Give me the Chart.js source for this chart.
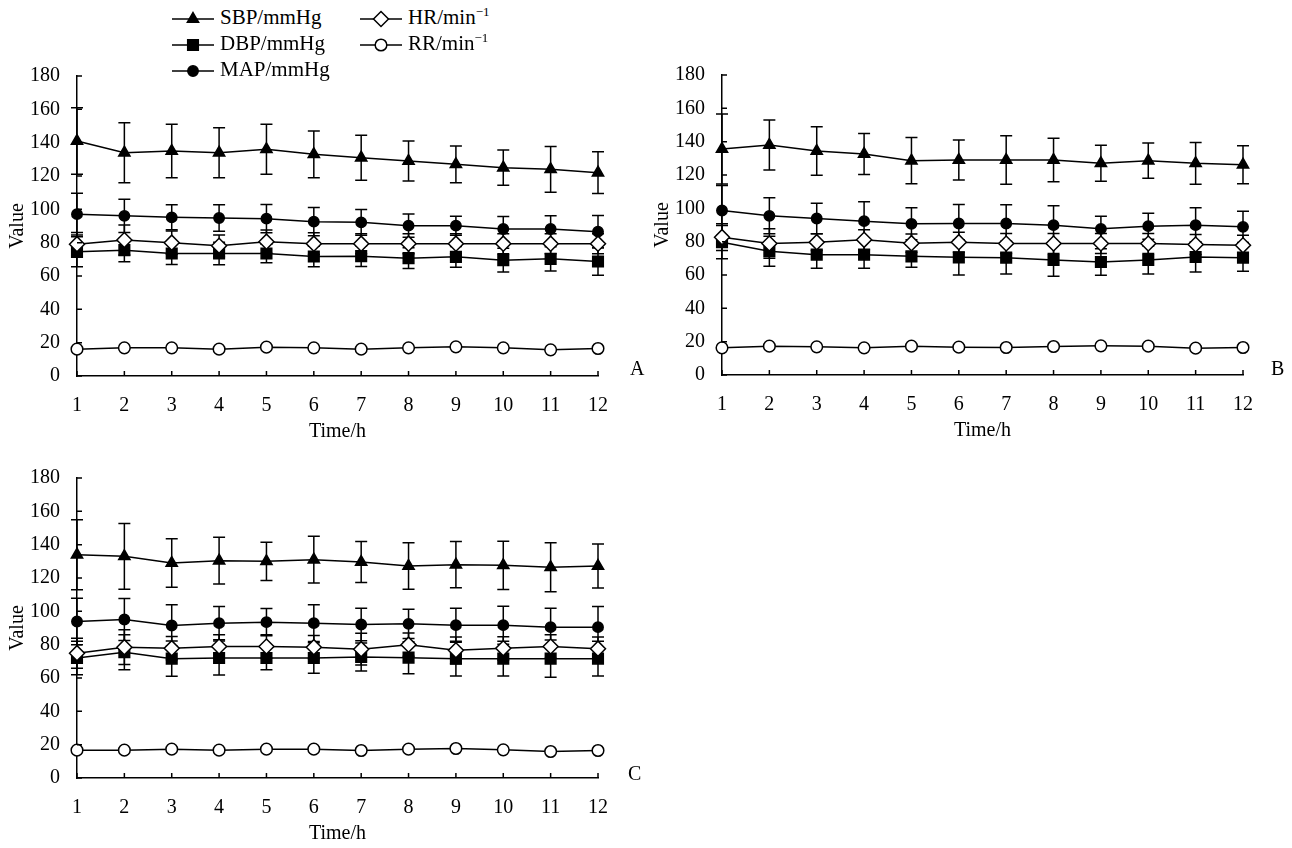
<!DOCTYPE html>
<html>
<head>
<meta charset="utf-8">
<title>Vital signs over time</title>
<script src="https://cdn.jsdelivr.net/npm/chart.js@4/dist/chart.umd.min.js"></script>
<style>
  html, body { margin: 0; padding: 0; background: #fff; overflow: hidden; }
  body { width: 1292px; height: 848px; position: relative; font-family: 'Liberation Serif', 'Times New Roman', serif; color: #000; }
  canvas { position: absolute; }
  .lg { position: absolute; height: 24px; line-height: 24px; font-size: 21px; white-space: nowrap; }
  .lg canvas { position: static; vertical-align: middle; margin-right: 5px; }
  .lg sup { font-size: 13px; line-height: 0; }
  .tag { position: absolute; font-size: 20px; line-height: 20px; }
</style>
</head>
<body>
<canvas id="chartA" width="660" height="400" style="left:0px;top:55px"></canvas>
<canvas id="chartB" width="660" height="400" style="left:645px;top:54px"></canvas>
<canvas id="chartC" width="660" height="400" style="left:0px;top:457px"></canvas>

<div class="lg" style="left:171px;top:5px"><canvas id="lgSBP" width="44" height="20"></canvas>SBP/mmHg</div>
<div class="lg" style="left:171px;top:31px"><canvas id="lgDBP" width="44" height="20"></canvas>DBP/mmHg</div>
<div class="lg" style="left:171px;top:57px"><canvas id="lgMAP" width="44" height="20"></canvas>MAP/mmHg</div>
<div class="lg" style="left:359px;top:5px"><canvas id="lgHR" width="44" height="20"></canvas>HR/min<sup>−1</sup></div>
<div class="lg" style="left:359px;top:31px"><canvas id="lgRR" width="44" height="20"></canvas>RR/min<sup>−1</sup></div>

<div class="tag" style="left:630px;top:358px">A</div>
<div class="tag" style="left:1271px;top:358px">B</div>
<div class="tag" style="left:628px;top:763px">C</div>

<script>
// time points (h) and y ticks
const hours = ['1', '2', '3', '4', '5', '6', '7', '8', '9', '10', '11', '12'];
const yMin = 0, yMax = 180, yStep = 20;

// panel A  (mean / SD)
const sbpA   = [141, 134, 135, 134, 136, 133, 131, 129, 127, 125, 124, 122];
const sbpSdA = [20, 18, 16, 15, 15, 14, 13.5, 12, 11, 10.6, 13.7, 12.5];
const mapA   = [97.1, 96.1, 95.2, 94.8, 94.4, 92.6, 92.2, 90.2, 90.2, 88.2, 88.2, 86.6];
const mapSdA = [12.5, 10, 7.5, 8, 8.5, 8.5, 7.7, 7, 5.7, 7.5, 8, 9.7];
const hrA    = [79.1, 81.6, 80, 78.1, 80.6, 79.4, 79.4, 79.4, 79.4, 79.4, 79.4, 79.4];
const hrSdA  = [7, 9, 7, 6.5, 7, 6.5, 6, 6, 6, 6, 6, 6];
const dbpA   = [74.5, 75.5, 73.5, 73.5, 73.5, 71.7, 71.9, 70.7, 71.5, 69.5, 70.3, 68.7];
const dbpSdA = [9, 7, 6.6, 6.8, 5.5, 6.2, 6.2, 6.2, 6.2, 7.1, 7.3, 8.3];
const rrA    = [16.1, 16.9, 16.9, 16.1, 17.3, 16.9, 16.1, 16.9, 17.5, 16.9, 15.7, 16.5];

// panel B
const sbpB   = [135.6, 138, 134.4, 132.6, 128.6, 129, 129, 129, 127, 128.6, 127, 126.2];
const sbpSdB = [21, 15, 14.5, 12.3, 13.9, 12, 14.5, 13, 10.8, 10.6, 12.5, 11.4];
const mapB   = [98.7, 95.5, 93.9, 92.3, 90.7, 90.9, 90.9, 89.9, 87.7, 89.3, 89.9, 88.9];
const mapSdB = [15, 10.8, 9.1, 11.6, 9.6, 11.4, 11.2, 11.6, 7.6, 7.8, 10.4, 9.4];
const hrB    = [82.7, 78.9, 79.7, 81.1, 79.1, 79.7, 78.9, 78.9, 78.9, 78.9, 78.3, 77.8];
const hrSdB  = [8, 8.8, 5, 6, 5.5, 6, 6, 6, 6, 6, 6, 6];
const dbpB   = [79.7, 74.3, 72.2, 72.2, 71.2, 70.6, 70.4, 69, 67.8, 69, 70.8, 70.4];
const dbpSdB = [10, 9, 8.2, 8.2, 6.6, 10.6, 9.8, 9.8, 8, 8.4, 9, 8.2];
const rrB    = [16.3, 17.3, 16.9, 16.3, 17.3, 16.7, 16.5, 17.1, 17.5, 17.3, 16.1, 16.5];

// panel C
const sbpC   = [134, 133, 129, 130.4, 130, 131, 129.6, 127.2, 128, 127.6, 126.4, 127.2];
const sbpSdC = [21, 19.7, 14.5, 14, 11.5, 14, 12.3, 13.9, 13.9, 14.5, 14.7, 13.2];
const mapC   = [93.9, 95.1, 91.5, 92.9, 93.5, 92.9, 92.1, 92.5, 91.7, 91.7, 90.5, 90.5];
const mapSdC = [14, 12.6, 12.4, 10, 8.2, 11, 9.8, 8.8, 10.2, 11.4, 11.4, 12.4];
const hrC    = [74.9, 78.5, 77.9, 78.9, 78.9, 78.5, 77.3, 80, 76.6, 77.8, 78.9, 77.6];
const hrSdC  = [9, 10.4, 7, 7, 7, 7, 9.5, 7, 8, 7, 7, 7];
const dbpC   = [72, 75.5, 71.6, 72, 72, 72, 72.6, 72.2, 71.6, 71.6, 71.6, 71.6];
const dbpSdC = [10, 10.5, 10.6, 10.2, 7, 9.2, 8.4, 9.6, 10.4, 10.4, 11.2, 10.4];
const rrC    = [16.7, 16.7, 17.3, 16.7, 17.3, 17.3, 16.5, 17.3, 17.7, 16.9, 15.9, 16.5];

const FONT = "'Liberation Serif', 'Times New Roman', serif";
Chart.defaults.font.family = FONT;
Chart.defaults.font.size = 20;
Chart.defaults.color = '#000';

// marker styles per series
const styles = {
  SBP: { pointStyle: 'triangle', radius: 6.5, fill: '#000' },
  DBP: { pointStyle: 'rect', radius: 7.5, fill: '#000' },
  MAP: { pointStyle: 'circle', radius: 5.2, fill: '#000' },
  HR:  { pointStyle: 'rectRot', radius: 7.5, fill: '#fff' },
  RR:  { pointStyle: 'circle', radius: 5.8, fill: '#fff' }
};

// vertical SD bars, drawn under the markers
const errorBars = {
  id: 'errorBars',
  beforeDatasetsDraw(chart) {
    const ctx = chart.ctx;
    const ys = chart.scales.y;
    ctx.save();
    ctx.strokeStyle = '#000';
    ctx.lineWidth = 1.5;
    chart.data.datasets.forEach((ds, di) => {
      if (!ds.sd) return;
      const meta = chart.getDatasetMeta(di);
      meta.data.forEach((pt, i) => {
        const hi = ys.getPixelForValue(ds.data[i] + ds.sd[i]);
        const lo = ys.getPixelForValue(ds.data[i] - ds.sd[i]);
        ctx.beginPath();
        ctx.moveTo(pt.x, hi); ctx.lineTo(pt.x, lo);
        ctx.moveTo(pt.x - 6, hi); ctx.lineTo(pt.x + 6, hi);
        ctx.moveTo(pt.x - 6, lo); ctx.lineTo(pt.x + 6, lo);
        ctx.stroke();
      });
    });
    ctx.restore();
  }
};

// tick marks pointing into the plot
const innerTicks = {
  id: 'innerTicks',
  afterDraw(chart) {
    const { ctx, chartArea: a, scales: { x, y } } = chart;
    ctx.save();
    ctx.strokeStyle = '#000';
    ctx.lineWidth = 1.5;
    ctx.beginPath();
    y.ticks.forEach((t, i) => {
      const py = y.getPixelForTick(i);
      ctx.moveTo(a.left, py); ctx.lineTo(a.left + 5, py);
    });
    x.ticks.forEach((t, i) => {
      const px = x.getPixelForTick(i);
      ctx.moveTo(px, a.bottom); ctx.lineTo(px, a.bottom - 5);
    });
    ctx.stroke();
    ctx.restore();
  }
};

function series(name, data, sd) {
  const s = styles[name];
  return {
    label: name,
    data: data,
    sd: sd,
    borderColor: '#000',
    borderWidth: 1.5,
    pointStyle: s.pointStyle,
    pointRadius: s.radius,
    pointBackgroundColor: s.fill,
    pointBorderColor: '#000',
    pointBorderWidth: 1.5,
    tension: 0,
    clip: false
  };
}

function makePanel(id, sbp, sbpSd, dbp, dbpSd, map, mapSd, hr, hrSd, rr) {
  return new Chart(document.getElementById(id), {
    type: 'line',
    data: {
      labels: hours,
      // first dataset ends up on top
      datasets: [
        series('SBP', sbp, sbpSd),
        series('HR', hr, hrSd),
        series('MAP', map, mapSd),
        series('DBP', dbp, dbpSd),
        series('RR', rr, null)
      ]
    },
    options: {
      responsive: false,
      animation: false,
      devicePixelRatio: 1,
      layout: { padding: { top: 20, right: 62, bottom: 0, left: 0 } },
      plugins: { legend: { display: false }, tooltip: { enabled: false } },
      scales: {
        x: {
          type: 'category',
          offset: false,
          grid: { display: false },
          border: { display: true, color: '#000', width: 1.5 },
          ticks: { padding: 10, maxRotation: 0, autoSkip: false, font: { size: 20 } },
          title: { display: true, text: 'Time/h', font: { size: 20 }, padding: { top: 0, bottom: 11 } },
          afterFit(scale) { scale.height = 79; }
        },
        y: {
          min: yMin,
          max: yMax,
          grid: { display: false },
          border: { display: true, color: '#000', width: 1.5 },
          ticks: { stepSize: yStep, padding: 9, font: { size: 20 } },
          title: { display: true, text: 'Value', font: { size: 20 }, padding: { top: 6, bottom: 0 } },
          afterFit(scale) { scale.width = 77; }
        }
      }
    },
    plugins: [errorBars, innerTicks]
  });
}

makePanel('chartA', sbpA, sbpSdA, dbpA, dbpSdA, mapA, mapSdA, hrA, hrSdA, rrA);
makePanel('chartB', sbpB, sbpSdB, dbpB, dbpSdB, mapB, mapSdB, hrB, hrSdB, rrB);
makePanel('chartC', sbpC, sbpSdC, dbpC, dbpSdC, mapC, mapSdC, hrC, hrSdC, rrC);

// legend icons: short line with the series marker in the middle
function drawIcon(id, name) {
  const s = styles[name];
  const c = document.getElementById(id);
  const ctx = c.getContext('2d');
  const cx = 22, cy = 10;
  ctx.strokeStyle = '#000';
  ctx.lineWidth = 1.5;
  ctx.beginPath();
  ctx.moveTo(1, cy); ctx.lineTo(43, cy);
  ctx.stroke();
  ctx.fillStyle = s.fill;
  ctx.beginPath();
  const r = s.radius;
  if (s.pointStyle === 'circle') {
    ctx.arc(cx, cy, r, 0, Math.PI * 2);
  } else if (s.pointStyle === 'rect') {
    const h = r * Math.SQRT1_2;
    ctx.rect(cx - h, cy - h, 2 * h, 2 * h);
  } else if (s.pointStyle === 'rectRot') {
    ctx.moveTo(cx, cy - r); ctx.lineTo(cx + r, cy); ctx.lineTo(cx, cy + r); ctx.lineTo(cx - r, cy); ctx.closePath();
  } else if (s.pointStyle === 'triangle') {
    ctx.moveTo(cx, cy - r);
    ctx.lineTo(cx + r * Math.sin(2 * Math.PI / 3), cy - r * Math.cos(2 * Math.PI / 3));
    ctx.lineTo(cx + r * Math.sin(4 * Math.PI / 3), cy - r * Math.cos(4 * Math.PI / 3));
    ctx.closePath();
  }
  ctx.fill();
  ctx.stroke();
}
drawIcon('lgSBP', 'SBP');
drawIcon('lgDBP', 'DBP');
drawIcon('lgMAP', 'MAP');
drawIcon('lgHR', 'HR');
drawIcon('lgRR', 'RR');
</script>
</body>
</html>
